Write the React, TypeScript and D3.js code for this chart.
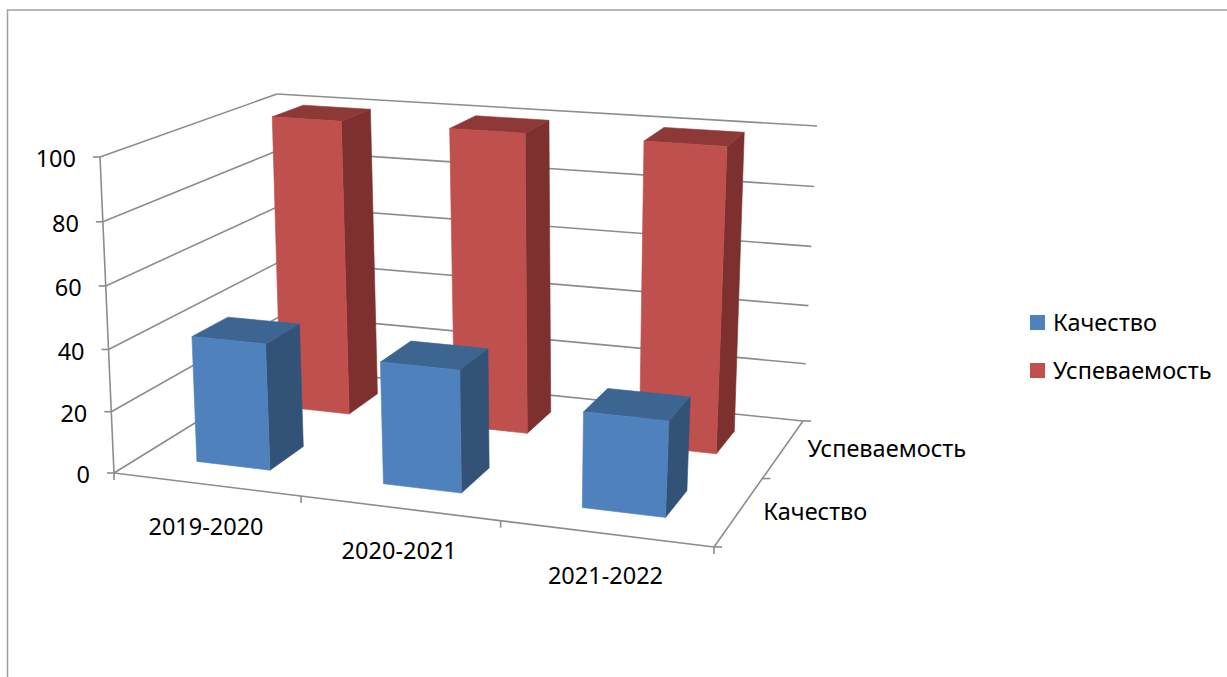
import React from "react";
import * as d3 from "d3";

const categories = ["2019-2020", "2020-2021", "2021-2022"];
const seriesNames = ["Качество", "Успеваемость"];
const quality = [41, 39, 30];
const progress = [100, 100, 100];
const yTicks = [0, 20, 40, 60, 80, 100];
const yTickDepth = [0, 0.194, 0.391, 0.592, 0.795, 1];

const palette: Record<string, { front: string; side: string; top: string }> = {
  "Качество": { front: "#4F81BD", side: "#325278", top: "#3D6592" },
  "Успеваемость": { front: "#C0504D", side: "#7D302E", top: "#8E3937" },
};

type P = [number, number];
// scene corners, order: front-left, front-right, back-right, back-left
const floorQuad: P[] = [[114, 473], [714, 547], [803, 421], [284, 368]];
const ceilQuad: P[] = [[100, 157], [733, 207], [817, 126], [277, 94]];

function homography(q: P[]) {
  const [[x0, y0], [x1, y1], [x2, y2], [x3, y3]] = q;
  const dx1 = x1 - x2, dx2 = x3 - x2, sx = x0 - x1 + x2 - x3;
  const dy1 = y1 - y2, dy2 = y3 - y2, sy = y0 - y1 + y2 - y3;
  const den = dx1 * dy2 - dx2 * dy1;
  const g = (sx * dy2 - dx2 * sy) / den;
  const h = (dx1 * sy - sx * dy1) / den;
  const a = x1 - x0 + g * x1, b = x3 - x0 + h * x3;
  const d = y1 - y0 + g * y1, e = y3 - y0 + h * y3;
  return (u: number, v: number): P => {
    const w = g * u + h * v + 1;
    return [(a * u + b * v + x0) / w, (d * u + e * v + y0) / w];
  };
}

const floorAt = homography(floorQuad);
const ceilAt = homography(ceilQuad);
const yScale = d3.scaleLinear().domain(yTicks).range(yTickDepth);
const xBand = d3.scaleBand<string>().domain(categories).range([0, 1]).paddingInner(0.6).paddingOuter(0.3);
const zBand = d3.scaleBand<string>().domain(seriesNames).range([0, 1]).paddingInner(0.6).paddingOuter(0.3);

function project(u: number, v: number, value: number): P {
  const a = floorAt(u, v), b = ceilAt(u, v), t = yScale(value);
  return [a[0] + (b[0] - a[0]) * t, a[1] + (b[1] - a[1]) * t];
}

const lineGen = d3.line<P>();
const poly = (pts: P[]) => lineGen(pts) + "Z";
const GRID = "#8C8C8C";
const FONT = "'Noto Sans', sans-serif";
const TEXT_SIZE = 23.5;

export default function App() {
  const stepX = xBand.step(), stepZ = zBand.step();
  const bars = [...seriesNames].reverse().flatMap((s) => {
    const vals = s === seriesNames[0] ? quality : progress;
    return categories.map((c, i) => {
      const u0 = xBand(c)!, u1 = u0 + xBand.bandwidth();
      const v0 = zBand(s)!, v1 = v0 + zBand.bandwidth();
      const h = vals[i];
      const col = palette[s];
      return (
        <g key={s + c} strokeWidth={0.6} strokeLinejoin="round">
          <path d={poly([project(u1, v0, 0), project(u1, v1, 0), project(u1, v1, h), project(u1, v0, h)])} fill={col.side} stroke={col.side} />
          <path d={poly([project(u0, v0, h), project(u1, v0, h), project(u1, v1, h), project(u0, v1, h)])} fill={col.top} stroke={col.top} />
          <path d={poly([project(u0, v0, 0), project(u1, v0, 0), project(u1, v0, h), project(u0, v0, h)])} fill={col.front} stroke={col.front} />
        </g>
      );
    });
  });

  const seg = (a: P, b: P, key: string) => (
    <line key={key} x1={a[0]} y1={a[1]} x2={b[0]} y2={b[1]} stroke={GRID} strokeWidth={1.6} />
  );

  return (
    <svg width={1227} height={677} style={{ position: "absolute", left: 0, top: 0, display: "block", background: "#fff" }} fontFamily={FONT}>
      <path d="M7.5,677V10H1227" fill="none" stroke="#A0A0A0" strokeWidth={1.5} />

      {yTicks.map((t) => (
        <g key={t}>
          {seg(project(0, 0, t), project(0, 1, t), "l" + t)}
          {seg(project(0, 1, t), project(1, 1, t), "b" + t)}
          {seg(project(0, 0, t), [project(0, 0, t)[0] - 7, project(0, 0, t)[1]], "t" + t)}
          <text x={project(0, 0, t)[0] - 24} y={project(0, 0, t)[1] + 2} dy="0.36em" textAnchor="end" fontSize={TEXT_SIZE} fill="#000">{t}</text>
        </g>
      ))}
      {seg(project(0, 0, 0), project(0, 0, 100), "axis")}
      {seg(project(0, 0, 0), project(1, 0, 0), "front")}
      {seg(project(1, 0, 0), project(1, 1, 0), "right")}

      {categories.map((c, i) => {
        const p = project(i * stepX, 0, 0);
        return seg(p, [p[0], p[1] + 7], "xt" + c);
      })}
      {seg(project(1, 0, 0), [project(1, 0, 0)[0], project(1, 0, 0)[1] + 7], "xt-end")}
      {seriesNames.map((s, i) => {
        const p = project(1, i * stepZ, 0);
        return seg(p, [p[0] + 8, p[1]], "zt" + s);
      })}
      {seg(project(1, 1, 0), [project(1, 1, 0)[0] + 8, project(1, 1, 0)[1]], "zt-end")}

      {bars}

      {categories.map((c) => {
        const p = project(xBand(c)! + xBand.bandwidth() / 2, 0, 0);
        return (
          <text key={c} x={p[0]} y={p[1] + 42} dy="0.36em" textAnchor="middle" fontSize={TEXT_SIZE} fill="#000">{c}</text>
        );
      })}
      {seriesNames.map((s) => {
        const p = project(1, zBand(s)! + zBand.bandwidth() / 2, 0);
        return (
          <text key={s} x={p[0] + 24} y={p[1]} dy="0.36em" fontSize={TEXT_SIZE} fill="#000">{s}</text>
        );
      })}

      {seriesNames.map((s, i) => (
        <g key={s} transform={`translate(1030,${315 + i * 48})`}>
          <rect width={15} height={15} fill={palette[s].front} />
          <text x={23} y={8} dy="0.36em" fontSize={TEXT_SIZE} fill="#000">{s}</text>
        </g>
      ))}
    </svg>
  );
}
